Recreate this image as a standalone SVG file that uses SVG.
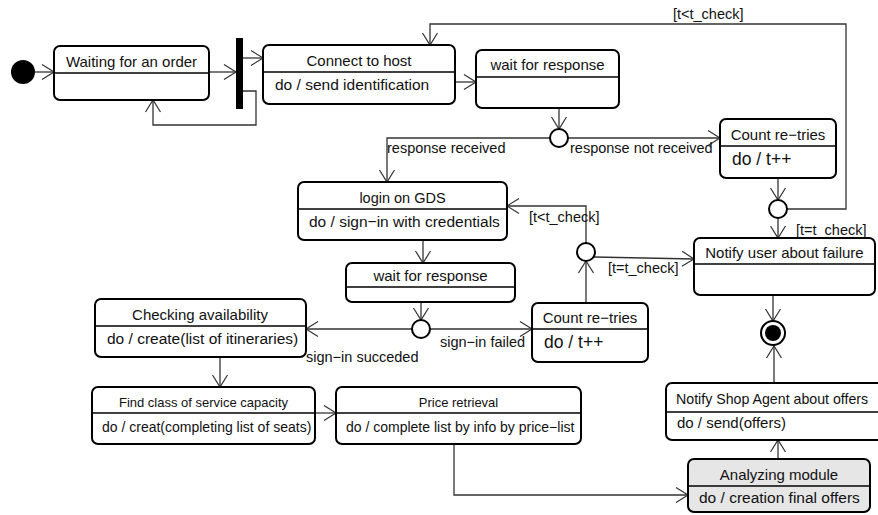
<svg xmlns="http://www.w3.org/2000/svg" width="878" height="515" viewBox="0 0 878 515">
  <defs>
    <marker id="open" markerUnits="userSpaceOnUse" markerWidth="14" markerHeight="16" refX="12" refY="7.5" orient="auto" overflow="visible">
      <path d="M0,0 L12,7.5 L0,15" fill="none" stroke="#333" stroke-width="1.2"/>
    </marker>
  </defs>
  <style>
    text { font-family: "Liberation Sans", Arial, Helvetica, sans-serif; fill: #111; }
    .box { fill: #fff; stroke: #000; stroke-width: 2; }
    .shade { fill: #e6e6e6; }
    .div { stroke: #000; stroke-width: 1.3; }
    .name { font-size: 15px; text-anchor: middle; }
    .act { font-size: 15.5px; }
    .big { font-size: 17.5px; }
    .small { font-size: 13px; }
    .smallact { font-size: 14px; }
    .lbl { font-size: 14.5px; }
    .edge { fill: none; stroke: #333; stroke-width: 1.3; }
    .arrow { marker-end: url(#open); }
    .choice { fill: #fff; stroke: #000; stroke-width: 2; }
  </style>

  <!-- transitions -->
  <g id="connectors">
    <path class="edge arrow" d="M35,72 H54"/>
    <path class="edge arrow" d="M209,72 H236"/>
    <path class="edge arrow" d="M243,58 H263"/>
    <path class="edge arrow" d="M243,91 H256 V125 H153 V100"/>
    <path class="edge arrow" d="M455,82 H476"/>
    <path class="edge arrow" d="M559,108 V129"/>
    <path class="edge arrow" d="M550,138 H387 V182"/>
    <path class="edge arrow" d="M568,138 H720"/>
    <path class="edge arrow" d="M778,178 V200"/>
    <path class="edge arrow" d="M787,209 H846 V24 H430 V45"/>
    <path class="edge arrow" d="M778,218 V238"/>
    <path class="edge arrow" d="M423,240 V263"/>
    <path class="edge arrow" d="M421,302 V320"/>
    <path class="edge arrow" d="M412,329 H306"/>
    <path class="edge arrow" d="M430,329 H532"/>
    <path class="edge arrow" d="M586,303 V261"/>
    <path class="edge arrow" d="M586,243 V206 H507"/>
    <path class="edge arrow" d="M594,257 L694,259"/>
    <path class="edge arrow" d="M220,357 V387"/>
    <path class="edge arrow" d="M315,413 H336"/>
    <path class="edge arrow" d="M454,444 V495 H688"/>
    <path class="edge arrow" d="M778,459 V440"/>
    <path class="edge arrow" d="M774,383 V346"/>
    <path class="edge arrow" d="M773,295 V321"/>

    <text class="lbl" x="387" y="153">response received</text>
    <text class="lbl" x="570" y="153">response not received</text>
    <text class="lbl" x="673" y="19">[t&lt;t_check]</text>
    <text class="lbl" x="796" y="235">[t=t_check]</text>
    <text class="lbl" x="529" y="222">[t&lt;t_check]</text>
    <text class="lbl" x="608" y="273">[t=t_check]</text>
    <text class="lbl" x="306" y="362">sign−in succeded</text>
    <text class="lbl" x="440" y="347">sign−in failed</text>
  </g>

  <!-- pseudo states -->
  <g id="initial"><circle cx="23" cy="72" r="12" fill="#000"/></g>
  <g id="fork"><rect x="236" y="38" width="7" height="71" fill="#000"/></g>
  <g id="choice1"><circle class="choice" cx="559" cy="138" r="9"/></g>
  <g id="choice2"><circle class="choice" cx="778" cy="209" r="9"/></g>
  <g id="choice3"><circle class="choice" cx="421" cy="329" r="9"/></g>
  <g id="choice4"><circle class="choice" cx="586" cy="252" r="9"/></g>
  <g id="final">
    <circle cx="773" cy="333" r="12" fill="#fff" stroke="#000" stroke-width="2"/>
    <circle cx="773" cy="333" r="8" fill="#000"/>
  </g>

  <!-- states -->
  <g id="waiting">
    <rect class="box" x="54" y="46" width="155" height="54" rx="6"/>
    <line class="div" x1="54" y1="73" x2="209" y2="73"/>
    <text class="name" x="131.5" y="67">Waiting for an order</text>
  </g>

  <g id="connect">
    <rect class="box" x="263" y="45" width="192" height="59" rx="6"/>
    <line class="div" x1="263" y1="72" x2="455" y2="72"/>
    <text class="name" x="359" y="66">Connect to host</text>
    <text class="act" x="275" y="90">do / send identification</text>
  </g>

  <g id="wait1">
    <rect class="box" x="476" y="50" width="143" height="58" rx="6"/>
    <line class="div" x1="476" y1="77" x2="619" y2="77"/>
    <text class="name" x="547.5" y="70">wait for response</text>
  </g>

  <g id="count1">
    <rect class="box" x="720" y="119" width="116" height="59" rx="6"/>
    <line class="div" x1="720" y1="146" x2="836" y2="146"/>
    <text class="name" x="778" y="140">Count re−tries</text>
    <text class="big" x="732" y="165">do / t++</text>
  </g>

  <g id="login">
    <rect class="box" x="298" y="182" width="209" height="58" rx="6"/>
    <line class="div" x1="298" y1="209" x2="507" y2="209"/>
    <text class="name" x="402.5" y="203" style="font-size:14.5px">login on GDS</text>
    <text class="act" x="309" y="227">do / sign−in with credentials</text>
  </g>

  <g id="wait2">
    <rect class="box" x="346" y="263" width="169" height="39" rx="6"/>
    <line class="div" x1="346" y1="287" x2="515" y2="287"/>
    <text class="name" x="430.5" y="281">wait for response</text>
  </g>

  <g id="checking">
    <rect class="box" x="95" y="299" width="211" height="58" rx="6"/>
    <line class="div" x1="95" y1="326" x2="306" y2="326"/>
    <text class="name" x="200" y="320">Checking availability</text>
    <text class="act" x="107" y="344">do / create(list of itineraries)</text>
  </g>

  <g id="count2">
    <rect class="box" x="532" y="303" width="116" height="59" rx="6"/>
    <line class="div" x1="532" y1="329" x2="648" y2="329"/>
    <text class="name" x="590" y="323">Count re−tries</text>
    <text class="big" x="544" y="348">do / t++</text>
  </g>

  <g id="notify-failure">
    <rect class="box" x="694" y="238" width="181" height="57" rx="6"/>
    <line class="div" x1="694" y1="264" x2="875" y2="264"/>
    <text class="name" x="784.5" y="258">Notify user about failure</text>
  </g>

  <g id="find-class">
    <rect class="box" x="92" y="387" width="223" height="57" rx="6"/>
    <line class="div" x1="92" y1="413" x2="315" y2="413"/>
    <text class="name small" x="203.5" y="407">Find class of service capacity</text>
    <text class="smallact" x="102" y="432">do / creat(completing list of seats)</text>
  </g>

  <g id="price">
    <rect class="box" x="336" y="387" width="245" height="57" rx="6"/>
    <line class="div" x1="336" y1="413" x2="581" y2="413"/>
    <text class="name small" x="458.5" y="407">Price retrieval</text>
    <text class="smallact" x="346" y="432">do / complete list by info by price−list</text>
  </g>

  <g id="notify-agent">
    <rect class="box" x="666" y="383" width="230" height="57" rx="6"/>
    <line class="div" x1="666" y1="412" x2="896" y2="412"/>
    <text x="676" y="404" style="font-size:14.2px">Notify Shop Agent about offers</text>
    <text x="677" y="428" style="font-size:15px">do / send(offers)</text>
  </g>

  <g id="analyzing">
    <rect class="box shade" x="688" y="459" width="182" height="53" rx="6"/>
    <line class="div" x1="688" y1="486" x2="870" y2="486"/>
    <text class="name" x="779" y="480">Analyzing module</text>
    <text class="act" x="699" y="503">do / creation final offers</text>
  </g>
</svg>
